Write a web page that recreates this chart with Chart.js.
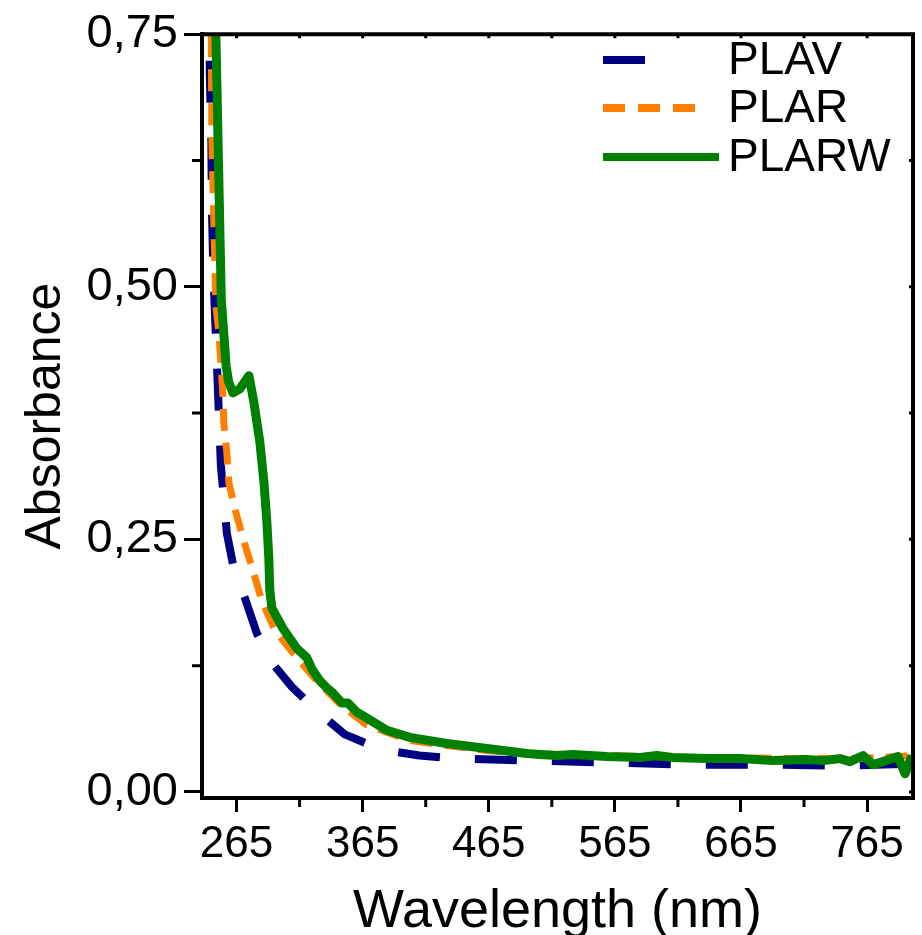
<!DOCTYPE html>
<html><head><meta charset="utf-8">
<script src="https://cdn.jsdelivr.net/npm/chart.js@4/dist/chart.umd.min.js"></script>
<style>html,body{margin:0;padding:0;background:#fff}#wrap{width:922px;height:935px;position:relative}</style>
</head><body><div id="wrap"><canvas id="c" width="922" height="935"></canvas></div>
<script>
const seriesNames = ['PLAV', 'PLAR', 'PLARW'];
const seriesColors = ['#000080', '#FF8000', '#008000'];

const plavX = [243.0, 243.8, 245.0, 245.4, 246.6, 248.6, 250.6, 252.6, 255.0, 257.3, 263.0, 271.6, 281.1, 293.0, 308.9, 327.9, 350.8, 379.5, 410.0, 440.5, 501.6, 562.6, 624.4, 685.5, 746.5, 801.5];
const plavY = [0.80, 0.709, 0.644, 0.580, 0.514, 0.450, 0.386, 0.322, 0.290, 0.256, 0.220, 0.192, 0.157, 0.128, 0.104, 0.081, 0.057, 0.042, 0.036, 0.033, 0.031, 0.029, 0.027, 0.027, 0.026, 0.028];

const plarX = [243.5, 245.0, 245.4, 246.3, 248.6, 251.0, 252.6, 254.1, 254.9, 257.3, 258.9, 264.4, 271.6, 278.0, 285.1, 295.4, 312.0, 327.9, 347.0, 368.4, 402.4, 431.8, 463.5, 495.2, 553.2, 632.5, 711.8, 759.0, 801.5];
const plarY = [0.85, 0.750, 0.650, 0.600, 0.481, 0.455, 0.424, 0.395, 0.365, 0.336, 0.306, 0.277, 0.245, 0.219, 0.189, 0.160, 0.134, 0.111, 0.087, 0.066, 0.051, 0.046, 0.041, 0.038, 0.036, 0.034, 0.033, 0.033, 0.036];

const plarwX = [247.5, 248.6, 252.9, 254.8, 256.7, 258.7, 262.1, 267.6, 274.8, 278.7, 283.5, 286.7, 289.0, 290.6, 291.4, 293.0, 301.7, 312.8, 320.7, 324.7, 331.0, 336.6, 341.4, 348.5, 353.2, 360.4, 368.4, 384.2, 402.4, 431.8, 463.5, 495.2, 505.5, 519.0, 531.7, 558.6, 584.9, 598.3, 611.0, 638.0, 664.2, 690.3, 717.3, 730.0, 743.5, 751.4, 761.8, 769.7, 777.6, 789.5, 795.1, 800.7];
const plarwY = [0.82, 0.750, 0.487, 0.455, 0.422, 0.406, 0.395, 0.399, 0.412, 0.386, 0.346, 0.307, 0.268, 0.231, 0.199, 0.182, 0.162, 0.142, 0.133, 0.122, 0.110, 0.103, 0.098, 0.088, 0.088, 0.079, 0.073, 0.061, 0.054, 0.048, 0.043, 0.038, 0.037, 0.036, 0.037, 0.035, 0.034, 0.036, 0.034, 0.033, 0.033, 0.031, 0.032, 0.031, 0.033, 0.030, 0.036, 0.027, 0.030, 0.035, 0.018, 0.036];

const xMajorTicks = [265, 365, 465, 565, 665, 765];
const xMinorTicks = [315, 415, 515, 615, 715];
const yMajorTicks = [0, 0.25, 0.5, 0.75];
const yMinorTicks = [0.125, 0.375, 0.625];

const FONT = "'Liberation Sans', Arial, Helvetica, sans-serif";
const toPts = (xs, ys) => xs.map((x, i) => ({x: x, y: ys[i]}));
const isMajor = (list, v) => list.some(m => Math.abs(m - v) < 1e-9);

const frameAndLegend = {
  id: 'frameAndLegend',
  afterDraw(chart) {
    const ctx = chart.ctx;
    const a = chart.chartArea;
    const xs = chart.scales.x, ys = chart.scales.y;
    ctx.save();
    ctx.strokeStyle = '#000';
    ctx.lineWidth = 4;
    ctx.lineCap = 'butt';
    ctx.beginPath();
    ctx.moveTo(a.left - 2, a.top); ctx.lineTo(a.right + 2, a.top);
    ctx.moveTo(a.right, a.top); ctx.lineTo(a.right, a.bottom + 2);
    ctx.stroke();
    ctx.lineWidth = 3;
    ctx.beginPath();
    xMinorTicks.forEach(v => { const p = xs.getPixelForValue(v); ctx.moveTo(p, a.bottom); ctx.lineTo(p, a.bottom + 9); });
    yMinorTicks.forEach(v => { const p = ys.getPixelForValue(v); ctx.moveTo(a.left, p); ctx.lineTo(a.left - 10, p); });
    xMajorTicks.concat(xMinorTicks).forEach(v => { const p = xs.getPixelForValue(v); ctx.moveTo(p, a.top); ctx.lineTo(p, a.top + 4); });
    yMajorTicks.concat(yMinorTicks).forEach(v => { const p = ys.getPixelForValue(v); ctx.moveTo(a.right, p); ctx.lineTo(a.right - 4, p); });
    ctx.stroke();
    const rows = [60, 108, 157];
    const dashes = [[42, 200], [22, 13], []];
    const lens = [43, 94, 116];
    const ds = chart.data.datasets;
    [0, 1, 2].forEach((i, r) => {
      ctx.strokeStyle = ds[i].borderColor;
      ctx.lineWidth = 8;
      ctx.setLineDash(dashes[r]);
      ctx.beginPath();
      ctx.moveTo(603, rows[r]); ctx.lineTo(603 + lens[r], rows[r]);
      ctx.stroke();
      ctx.setLineDash([]);
      ctx.fillStyle = '#000';
      ctx.font = '46px ' + FONT;
      ctx.textBaseline = 'middle';
      ctx.textAlign = 'left';
      ctx.fillText(ds[i].label, 728, rows[r] + 1);
    });
    ctx.restore();
  }
};

new Chart(document.getElementById('c'), {
  type: 'line',
  data: {
    datasets: [
      {label: seriesNames[0], data: toPts(plavX, plavY), borderColor: seriesColors[0], borderWidth: 8, borderDash: [42, 35], order: 3},
      {label: seriesNames[1], data: toPts(plarX, plarY), borderColor: seriesColors[1], borderWidth: 7, borderDash: [22, 12], order: 2},
      {label: seriesNames[2], data: toPts(plarwX, plarwY), borderColor: seriesColors[2], borderWidth: 9, order: 1}
    ]
  },
  options: {
    responsive: false,
    animation: false,
    devicePixelRatio: 1,
    parsing: false,
    elements: {point: {radius: 0}, line: {tension: 0, fill: false, borderJoinStyle: 'round'}},
    clip: 0,
    layout: {padding: {top: 30, right: 9, left: 0, bottom: 0}},
    plugins: {legend: {display: false}, tooltip: {enabled: false}},
    scales: {
      x: {
        type: 'linear', min: 237.6, max: 801.4,
        afterBuildTicks: s => { s.ticks = xMajorTicks.concat(xMinorTicks).sort((p, q) => p - q).map(v => ({value: v})); },
        afterFit: s => { s.height = 137; },
        ticks: {
          autoSkip: false, maxRotation: 0, padding: 6, color: '#000',
          font: {family: FONT, size: 44},
          callback: v => isMajor(xMajorTicks, v) ? String(v) : ''
        },
        grid: {
          drawOnChartArea: false, tickLength: 14, tickWidth: 3,
          tickColor: c => (c.tick && isMajor(xMajorTicks, c.tick.value)) ? '#000' : 'rgba(0,0,0,0)'
        },
        border: {display: true, color: '#000', width: 4},
        title: {display: true, text: 'Wavelength (nm)', color: '#000', font: {family: FONT, size: 54, lineHeight: 0.8}, padding: {top: 0, bottom: 1}}
      },
      y: {
        type: 'linear', min: -0.006, max: 0.75,
        afterBuildTicks: s => { s.ticks = yMajorTicks.concat(yMinorTicks).sort((p, q) => p - q).map(v => ({value: v})); },
        afterFit: s => { s.width = 202; },
        ticks: {
          autoSkip: false, padding: 6, color: '#000',
          font: {family: FONT, size: 47},
          callback: v => isMajor(yMajorTicks, v) ? v.toFixed(2).replace('.', ',') : ''
        },
        grid: {
          drawOnChartArea: false, tickLength: 18, tickWidth: 3,
          tickColor: c => (c.tick && isMajor(yMajorTicks, c.tick.value)) ? '#000' : 'rgba(0,0,0,0)'
        },
        border: {display: true, color: '#000', width: 4},
        title: {display: true, text: 'Absorbance', color: '#000', font: {family: FONT, size: 50, lineHeight: 1}, padding: {top: 21, bottom: 0}}
      }
    }
  },
  plugins: [frameAndLegend]
});
</script>
</body></html>
